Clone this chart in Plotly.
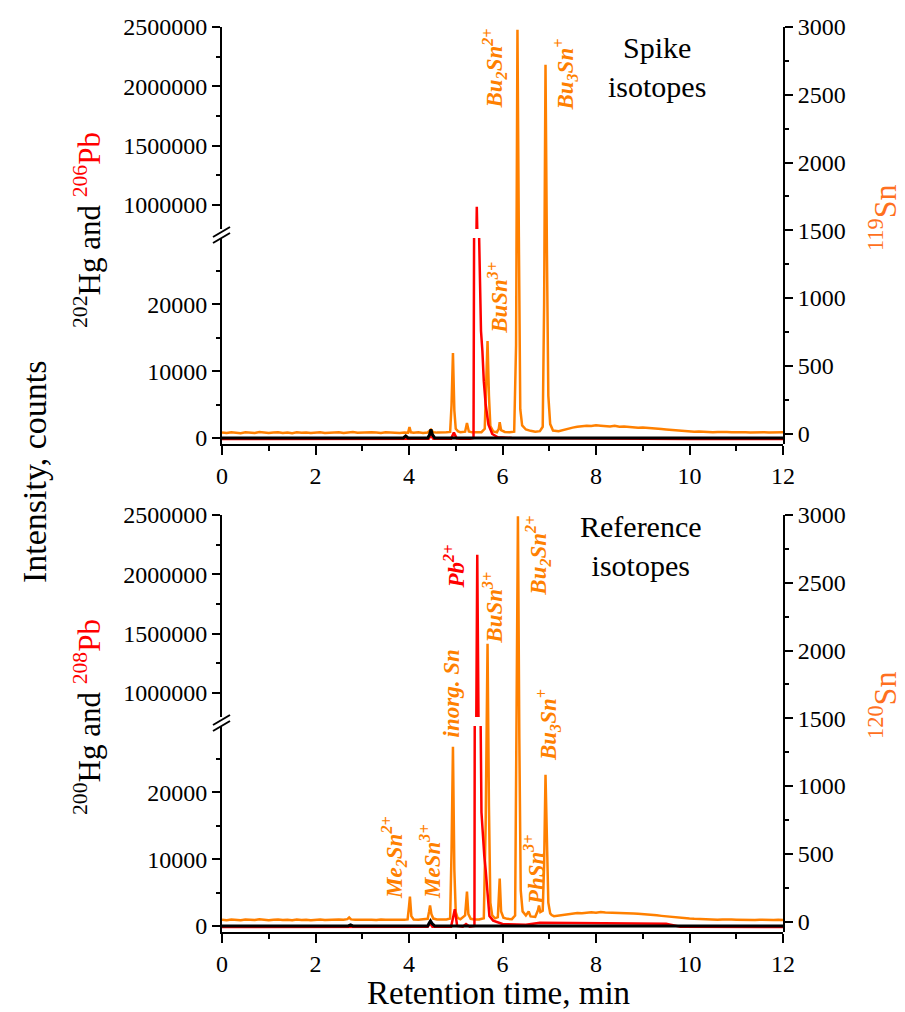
import plotly.graph_objects as go

# ---------------------------------------------------------------
# Chromatogram data (retention time in min, intensity in counts)
# ---------------------------------------------------------------

# Spike isotopes: 119Sn (right axis)
spike_sn_t = [
    0.0, 0.1, 0.2, 0.3, 0.4, 0.5, 0.6, 0.7, 0.8, 0.9,
    1.0, 1.1, 1.2, 1.3, 1.4, 1.5, 1.6, 1.7, 1.8, 1.9,
    2.0, 2.1, 2.2, 2.3, 2.4, 2.5, 2.6, 2.7, 2.8, 2.9,
    3.0, 3.1, 3.2, 3.3, 3.4, 3.5, 3.6, 3.7, 3.8, 3.9,
    3.98, 4.01, 4.04, 4.1, 4.2, 4.3, 4.4, 4.47, 4.52, 4.6,
    4.7, 4.8, 4.88, 4.91, 4.94, 4.97, 5.0, 5.05, 5.1, 5.2,
    5.24, 5.28, 5.35, 5.45, 5.55, 5.62, 5.66, 5.68, 5.71, 5.74,
    5.8, 5.88, 5.92, 5.94, 5.97, 6.05, 6.15, 6.25, 6.29, 6.32,
    6.35, 6.38, 6.42, 6.5, 6.6, 6.7, 6.8, 6.86, 6.89, 6.92,
    6.95, 6.98, 7.02, 7.08, 7.2, 7.3, 7.4, 7.5, 7.6, 7.7,
    7.8, 7.9, 8.0, 8.1, 8.2, 8.3, 8.4, 8.5, 8.6, 8.7,
    8.8, 8.9, 9.0, 9.1, 9.2, 9.3, 9.4, 9.5, 9.6, 9.7,
    9.8, 9.9, 10.0, 10.1, 10.2, 10.3, 10.4, 10.5, 10.6, 10.7,
    10.8, 10.9, 11.0, 11.1, 11.2, 11.3, 11.4, 11.5, 11.6, 11.7,
    11.8, 11.9, 12.0,
]
spike_sn = [
    8, 4, 10, 6, 3, 9, 7, 5, 11, 6,
    4, 8, 10, 5, 7, 3, 9, 6, 8, 4,
    7, 10, 5, 8, 6, 9, 4, 7, 11, 6,
    8, 5, 10, 7, 4, 9, 6, 8, 5, 7,
    6, 48, 9, 6, 9, 5, 8, 30, 10, 7,
    6, 9, 12, 210, 594, 170, 35, 16, 10, 14,
    78, 16, 9, 8, 10, 35, 420, 683, 280, 55,
    16, 10, 35, 84, 25, 12, 9, 14, 650, 2980,
    1450, 180, 60, 30, 20, 14, 18, 50, 950, 2722,
    1350, 280, 70, 22, 18, 28, 36, 44, 50, 54,
    58, 56, 61, 58, 55, 53, 57, 50, 52, 48,
    45, 43, 44, 40, 38, 35, 33, 30, 27, 24,
    21, 19, 16, 14, 15, 12, 13, 10, 12, 9,
    11, 10, 8, 11, 9, 8, 10, 7, 9, 8,
    10, 7, 9,
]

# Spike isotopes: 206Pb (left axis)
spike_pb_t = [0.0, 1.0, 2.0, 3.0, 3.9, 4.42, 4.47, 4.52, 4.9, 4.96,
              5.02, 5.1, 5.3, 5.38, 5.42, 5.45, 5.48, 5.50, 5.54, 5.57,
              5.60, 5.64, 5.70, 5.78, 5.9, 6.2, 7.0, 8.0, 9.0, 10.0,
              11.0, 12.0]
spike_pb = [-150, -150, -150, -150, -150, -100, 350, -100, -100, 800,
            -50, -100, -100, 0, 100000, 985000, 250000, 30000, 16000, 13000,
            8500, 5000, 2000, 600, 100, 0, -50, -100, -150, -150,
            -150, -150]

# Spike isotopes: 202Hg (left axis)
spike_hg_t = [0.0, 1.0, 2.0, 3.0, 3.88, 3.93, 3.98, 4.4, 4.44, 4.47,
              4.5, 4.55, 5.0, 6.0, 7.0, 8.0, 9.0, 10.0, 11.0, 12.0]
spike_hg = [0, 20, -20, 10, 0, 300, 0, 0, 500, 1300,
            500, 0, 20, -10, 10, 0, -10, 10, 0, 0]

# Reference isotopes: 120Sn (right axis)
ref_sn_t = [
    0.0, 0.1, 0.2, 0.3, 0.4, 0.5, 0.6, 0.7, 0.8, 0.9,
    1.0, 1.1, 1.2, 1.3, 1.4, 1.5, 1.6, 1.7, 1.8, 1.9,
    2.0, 2.1, 2.2, 2.3, 2.4, 2.5, 2.6, 2.68, 2.72, 2.76,
    2.85, 3.0, 3.1, 3.2, 3.3, 3.4, 3.5, 3.6, 3.7, 3.8,
    3.9, 3.97, 4.0, 4.02, 4.05, 4.1, 4.2, 4.3, 4.4, 4.43,
    4.45, 4.48, 4.52, 4.6, 4.7, 4.8, 4.88, 4.91, 4.94, 4.97,
    5.0, 5.04, 5.1, 5.2, 5.24, 5.27, 5.32, 5.4, 5.5, 5.6,
    5.64, 5.68, 5.71, 5.74, 5.78, 5.84, 5.9, 5.94, 5.97, 6.02,
    6.1, 6.2, 6.27, 6.30, 6.33, 6.36, 6.39, 6.43, 6.5, 6.56,
    6.6, 6.7, 6.76, 6.78, 6.81, 6.86, 6.89, 6.92, 6.95, 6.98,
    7.02, 7.05, 7.1, 7.2, 7.3, 7.4, 7.5, 7.6, 7.7, 7.8,
    7.9, 8.0, 8.1, 8.2, 8.3, 8.4, 8.5, 8.6, 8.7, 8.8,
    8.9, 9.0, 9.1, 9.2, 9.3, 9.4, 9.5, 9.6, 9.7, 9.8,
    9.9, 10.0, 10.1, 10.2, 10.3, 10.4, 10.5, 10.6, 10.7, 10.8,
    10.9, 11.0, 11.1, 11.2, 11.3, 11.4, 11.5, 11.6, 11.7, 11.8,
    11.9, 12.0,
]
ref_sn = [
    14, 10, 16, 12, 9, 15, 13, 11, 17, 12,
    10, 14, 16, 11, 13, 9, 15, 12, 14, 10,
    13, 16, 11, 14, 12, 15, 13, 18, 30, 16,
    13, 15, 11, 14, 12, 16, 13, 15, 12, 14,
    13, 16, 110, 184, 40, 15, 13, 16, 20, 75,
    118, 55, 22, 15, 13, 16, 22, 520, 1290, 380,
    70, 28, 17, 45, 221, 55, 20, 15, 16, 24,
    720, 2049, 850, 140, 45, 24, 32, 317, 75, 28,
    20, 18, 45, 1550, 2990, 1350, 230, 75, 45, 74,
    38, 35, 85, 118, 70, 80, 420, 1083, 480, 140,
    60, 48, 40, 45, 50, 56, 60, 63, 62, 66,
    68, 65, 70, 67, 66, 69, 64, 66, 62, 60,
    58, 56, 52, 50, 46, 42, 38, 34, 30, 27,
    24, 22, 20, 18, 19, 16, 17, 14, 16, 13,
    15, 14, 12, 15, 13, 11, 14, 12, 13, 11,
    14, 12,
]

# Reference isotopes: 208Pb (left axis)
ref_pb_t = [0.0, 1.0, 2.0, 2.7, 3.0, 4.0, 4.4, 4.45, 4.5, 4.9,
            4.98, 5.03, 5.15, 5.22, 5.3, 5.40, 5.43, 5.46, 5.49, 5.52,
            5.55, 5.58, 5.61, 5.64, 5.68, 5.72, 5.8, 6.0, 6.5, 6.8,
            7.5, 8.5, 9.5, 9.8, 10.5, 12.0]
ref_pb = [-150, -150, -150, -100, -150, -150, -100, 400, -100, -100,
          2500, 0, -100, 300, -100, 0, 150000, 2165000, 600000, 40000,
          17000, 13000, 10500, 8400, 4500, 1500, 800, 300, 200, 500,
          450, 400, 350, -100, -150, -150]

# Reference isotopes: 200Hg (left axis)
ref_hg_t = [0.0, 1.0, 2.0, 2.7, 2.75, 2.8, 3.5, 4.4, 4.43, 4.46,
            4.5, 4.55, 5.0, 6.0, 7.0, 8.0, 9.0, 10.0, 11.0, 12.0]
ref_hg = [0, 10, -10, 0, 150, 0, 10, 0, 400, 750,
          300, 0, 10, -10, 0, 10, -10, 0, 10, 0]

# Axis ranges
x_range = [0, 12]
sn_range = [-77, 3000]
low_range = [-900, 29900]
high_range = [798000, 2500000]

# ---------------------------------------------------------------
# Layout geometry (pixels)
# ---------------------------------------------------------------
ORANGE = "#FF8000"
RED = "#FF0000"
SERIF = "Liberation Serif"

W, H = 905, 1012
ML, MR, MT, MB = 222, 122, 27, 80
PLOT_W = W - ML - MR
PLOT_H = H - MT - MB
PANEL_H = 417
UPPER_H = 202
LOWER_H = 206


def fx(px):
    return (px - ML) / PLOT_W


def fy(py):
    return (H - MB - py) / PLOT_H


top_dom = [1 - PANEL_H / PLOT_H, 1.0]
bot_dom = [0.0, PANEL_H / PLOT_H]

tickfont = dict(family=SERIF, size=24, color="black")
base_axis = dict(showline=True, linecolor="black", linewidth=2,
                 ticks="outside", ticklen=8, tickwidth=2, tickcolor="black",
                 showgrid=False, zeroline=False, tickfont=tickfont)


def x_axis(anchor):
    return dict(base_axis, range=x_range, domain=[0, 1], anchor=anchor,
                tick0=0, dtick=2, ticklen=9,
                minor=dict(ticks="outside", dtick=1, ticklen=5,
                           tickwidth=2, tickcolor="black", showgrid=False))


def sn_axis(xa, dom):
    return dict(base_axis, range=sn_range, domain=dom, anchor=xa,
                side="right", tick0=0, dtick=500,
                minor=dict(ticks="outside", dtick=250, ticklen=4,
                           tickwidth=2, tickcolor="black", showgrid=False))


def low_axis(xa, dom):
    d = [dom[0], dom[0] + LOWER_H / PLOT_H]
    return dict(base_axis, range=low_range, domain=d, anchor=xa,
                side="left", tick0=0, dtick=10000, tickformat="d",
                minor=dict(ticks="outside", dtick=5000, ticklen=4,
                           tickwidth=2, tickcolor="black", showgrid=False))


def high_axis(xa, dom):
    d = [dom[1] - UPPER_H / PLOT_H, dom[1]]
    return dict(base_axis, range=high_range, domain=d, anchor=xa,
                side="left", tick0=0, dtick=500000, tickformat="d",
                minor=dict(ticks="outside", dtick=250000, ticklen=4,
                           tickwidth=2, tickcolor="black", showgrid=False))


fig = go.Figure()


def line(x, y, xa, ya, color, width):
    fig.add_trace(go.Scatter(x=x, y=y, xaxis=xa, yaxis=ya, mode="lines",
                             line=dict(color=color, width=width),
                             showlegend=False, hoverinfo="skip"))


# Top panel: spike isotopes
line(spike_sn_t, spike_sn, "x", "y", ORANGE, 2.5)
line(spike_pb_t, spike_pb, "x", "y2", RED, 2.5)
line(spike_pb_t, spike_pb, "x", "y3", RED, 2.5)
line(spike_hg_t, spike_hg, "x", "y2", "black", 3)

# Bottom panel: reference isotopes
line(ref_sn_t, ref_sn, "x2", "y4", ORANGE, 2.5)
line(ref_pb_t, ref_pb, "x2", "y5", RED, 2.5)
line(ref_pb_t, ref_pb, "x2", "y6", RED, 2.5)
line(ref_hg_t, ref_hg, "x2", "y5", "black", 3)

fig.update_layout(
    width=W, height=H,
    margin=dict(l=ML, r=MR, t=MT, b=MB, pad=0),
    paper_bgcolor="white", plot_bgcolor="rgba(0,0,0,0)",
    showlegend=False,
    xaxis=x_axis("y2"),
    xaxis2=x_axis("y5"),
    yaxis=sn_axis("x", top_dom),
    yaxis2=low_axis("x", top_dom),
    yaxis3=high_axis("x", top_dom),
    yaxis4=sn_axis("x2", bot_dom),
    yaxis5=low_axis("x2", bot_dom),
    yaxis6=high_axis("x2", bot_dom),
)

# Axis-break marks on the left axes
shapes = []
for panel_top in (MT, H - MB - PANEL_H):
    for y0, y1 in ((210, 200), (216, 206)):
        shapes.append(dict(type="line", xref="paper", yref="paper",
                           x0=fx(213), x1=fx(230),
                           y0=fy(panel_top + y0), y1=fy(panel_top + y1),
                           line=dict(color="black", width=2)))
fig.update_layout(shapes=shapes)

ann = []


def title(text, px, py, size, color="black", angle=-90):
    ann.append(dict(text=text, xref="paper", yref="paper", x=fx(px), y=fy(py),
                    xanchor="center", yanchor="middle", showarrow=False,
                    textangle=angle,
                    font=dict(family=SERIF, size=size, color=color)))


title("Intensity, counts", 35, 472, 34)
title("<sup>202</sup>Hg and <span style='color:#FF0000'><sup>206</sup>Pb</span>",
      87, 230, 31)
title("<sup>200</sup>Hg and <span style='color:#FF0000'><sup>208</sup>Pb</span>",
      87, 717, 31)
title("<sup>119</sup>Sn", 883, 218, 32, color="#FF7020")
title("<sup>120</sup>Sn", 883, 706, 32, color="#FF7020")
title("Retention time, min", 498, 993, 33, angle=0)


def peak(text, x, y, xa, ya, color=ORANGE):
    ann.append(dict(text=text, xref=xa, yref=ya, x=x, y=y,
                    xanchor="center", yanchor="middle", showarrow=False,
                    textangle=-90,
                    font=dict(family=SERIF, size=23, color=color,
                              weight="bold", style="italic")))


def note(text, x, y, xa, ya):
    ann.append(dict(text=text, xref=xa, yref=ya, x=x, y=y,
                    xanchor="center", yanchor="middle", showarrow=False,
                    font=dict(family=SERIF, size=30, color="black")))


# Spike panel labels
peak("Bu<sub>2</sub>Sn<sup>2+</sup>", 5.82, 2694, "x", "y")
peak("Bu<sub>3</sub>Sn<sup>+</sup>", 7.34, 2650, "x", "y")
peak("BuSn<sup>3+</sup>", 5.90, 1000, "x", "y")
note("Spike<br>isotopes", 9.30, 2702, "x", "y")

# Reference panel labels
peak("Pb<sup>2+</sup>", 4.98, 2619, "x2", "y4", color=RED)
peak("BuSn<sup>3+</sup>", 5.80, 2317, "x2", "y4")
peak("Bu<sub>2</sub>Sn<sup>2+</sup>", 6.76, 2700, "x2", "y4")
peak("inorg. Sn", 4.90, 1684, "x2", "y4")
peak("Bu<sub>3</sub>Sn<sup>+</sup>", 6.97, 1449, "x2", "y4")
peak("PhSn<sup>3+</sup>", 6.70, 381, "x2", "y4")
peak("MeSn<sup>3+</sup>", 4.47, 440, "x2", "y4")
peak("Me<sub>2</sub>Sn<sup>2+</sup>", 3.68, 470, "x2", "y4")
note("Reference<br>isotopes", 8.96, 2774, "x2", "y4")

fig.update_layout(annotations=ann)

fig.write_html("out.html")
